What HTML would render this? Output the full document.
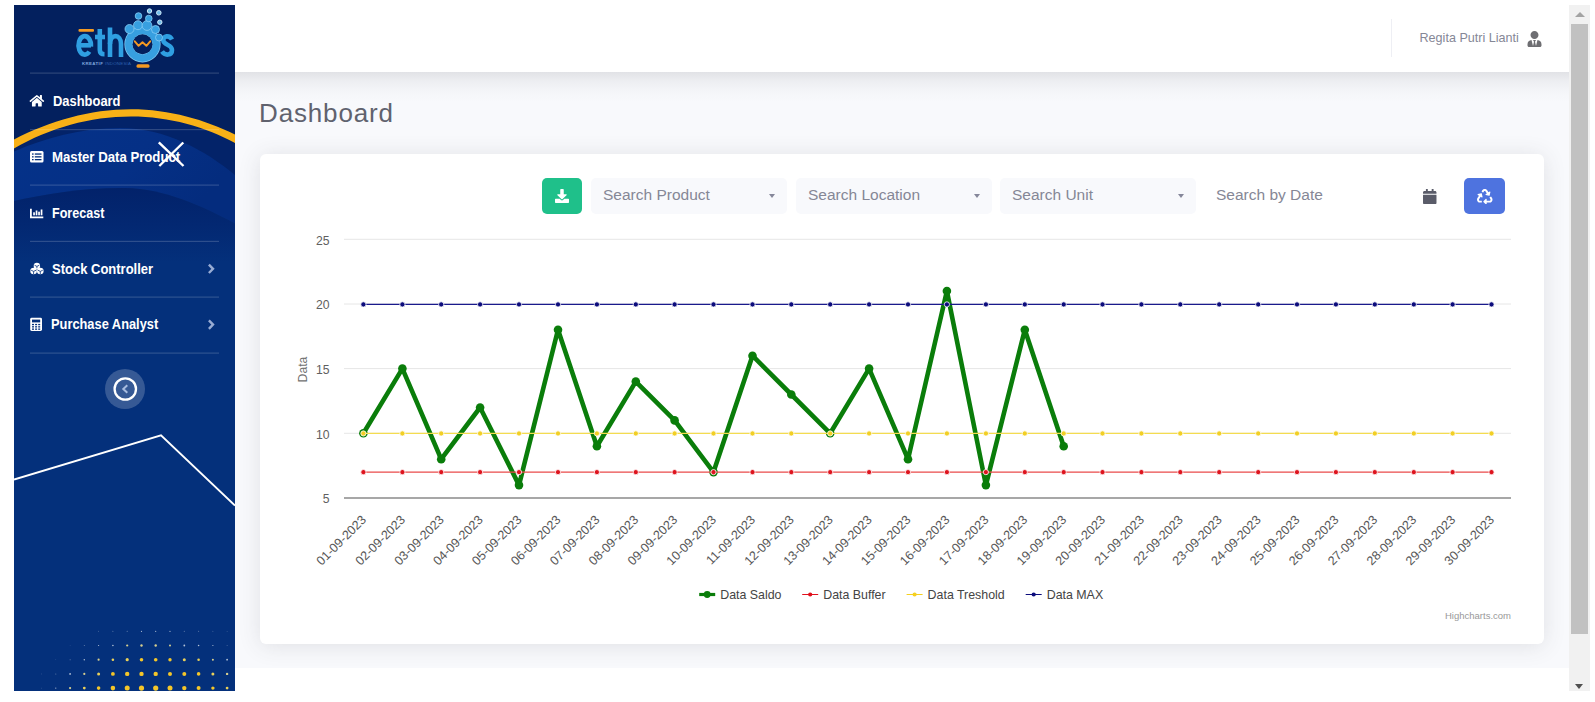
<!DOCTYPE html>
<html lang="en">
<head>
<meta charset="utf-8">
<title>Dashboard</title>
<style>
*{box-sizing:border-box;margin:0;padding:0}
html,body{width:1595px;height:702px;overflow:hidden;background:#fff}
body{font-family:"Liberation Sans",sans-serif;position:relative;color:#858796}
.abs{position:absolute}
#sidebar{left:14px;top:5px;width:221px;height:686px;background:#04307a;overflow:hidden}
#topbar{left:235px;top:5px;width:1335px;height:67px;background:#fff;z-index:2}
#tshadow{left:235px;top:72px;width:1335px;height:30px;background:linear-gradient(to bottom,rgba(58,59,69,.12),rgba(58,59,69,.06) 30%,rgba(58,59,69,.02) 65%,rgba(58,59,69,0))}
#content{left:235px;top:72px;width:1335px;height:596px;background:#f8f9fc}
#card{left:260px;top:154px;width:1284px;height:490px;background:#fff;border-radius:6px;box-shadow:0 2px 22px 0 rgba(58,59,69,.13)}
.nav{position:absolute;left:16px;color:#fff;font-weight:bold;font-size:14.2px;white-space:nowrap;line-height:17px;transform-origin:0 50%}
.nav svg{position:absolute;left:0;top:0}
.nav span{position:absolute;left:23px;top:0}
.hr{position:absolute;left:16px;width:189px;height:1px;background:rgba(255,255,255,.14)}
.sel{position:absolute;top:178px;height:36px;background:#f8f9fc;border-radius:5px;color:#858796;font-size:15.5px;line-height:34.5px;padding-left:12px}
.sel i{position:absolute;right:12px;top:16px;border-left:3.5px solid transparent;border-right:3.5px solid transparent;border-top:4px solid #85879a}
text.ax{font-size:12.2px;fill:#606060;font-family:"Liberation Sans",sans-serif}
text.xl{font-size:12.55px;fill:#585858;font-family:"Liberation Sans",sans-serif}
text.lt{font-size:12.4px;fill:#444;font-family:"Liberation Sans",sans-serif}
svg text{font-family:"Liberation Sans",sans-serif}
</style>
</head>
<body>
<div id="content" class="abs"></div>
<div id="tshadow" class="abs"></div>
<div id="topbar" class="abs">
  <div class="abs" style="left:1156px;top:14px;width:1px;height:38px;background:#eeeff4"></div>
  <div class="abs" id="uname" style="left:1184.5px;top:26.2px;font-size:12.6px;color:#858796;white-space:nowrap;line-height:15px">Regita Putri Lianti</div>
  <svg class="abs" style="left:1292px;top:25.5px" width="15" height="16" viewBox="0 0 448 512"><path fill="#6e6e72" d="M224 256c70.700 0 128-57.300 128-128S294.700 0 224 0 96 57.300 96 128s57.300 128 128 128zm95.800 32.600L272 480l-32-136 32-56h-96l32 56-32 136-47.800-191.400C56.900 292 0 350.300 0 422.400V464c0 26.500 21.500 48 48 48h352c26.500 0 48-21.500 48-48v-41.600c0-72.100-56.900-130.400-128.200-133.800z"/></svg>
</div>
<div id="card" class="abs"></div>
<div class="abs" id="title" style="left:259px;top:96.700px;font-size:26px;letter-spacing:.85px;color:#60626e;line-height:32px;white-space:nowrap">Dashboard</div>

<!-- toolbar -->
<div class="abs" style="left:542px;top:178px;width:40px;height:36px;border-radius:5px;background:#1fc08a">
  <svg class="abs" style="left:13px;top:11px" width="14" height="14" viewBox="0 0 512 512"><path fill="#fff" d="M216 0h80c13.300 0 24 10.700 24 24v168h87.700c17.800 0 26.700 21.500 14.100 34.100L269.700 378.300c-7.500 7.500-19.800 7.500-27.300 0L90.100 226.100c-12.600-12.600-3.700-34.100 14.100-34.100H192V24c0-13.300 10.700-24 24-24zm296 376v112c0 13.300-10.700 24-24 24H24c-13.300 0-24-10.700-24-24V376c0-13.300 10.700-24 24-24h146.700l49 49c20.100 20.100 52.500 20.100 72.600 0l49-49H488c13.300 0 24 10.700 24 24z"/></svg>
</div>
<div class="sel" style="left:591px;width:196px">Search Product<i></i></div>
<div class="sel" style="left:796px;width:196px">Search Location<i></i></div>
<div class="sel" style="left:1000px;width:196px">Search Unit<i></i></div>
<div class="abs" id="sdate" style="left:1216px;top:178px;font-size:15.5px;line-height:34.5px;color:#858796;white-space:nowrap">Search by Date</div>
<svg class="abs" style="left:1423px;top:189px" width="13.500" height="15.400" viewBox="0 0 448 512"><path fill="#5a5c69" d="M12 192h424c6.600 0 12 5.400 12 12v260c0 26.500-21.500 48-48 48H48c-26.500 0-48-21.500-48-48V204c0-6.600 5.400-12 12-12zm436-44v-36c0-26.500-21.500-48-48-48h-48V12c0-6.600-5.400-12-12-12h-40c-6.600 0-12 5.400-12 12v52H160V12c0-6.600-5.400-12-12-12h-40c-6.600 0-12 5.400-12 12v52H48C21.500 64 0 85.500 0 112v36c0 6.600 5.400 12 12 12h424c6.600 0 12-5.400 12-12z"/></svg>
<div class="abs" style="left:1464px;top:178px;width:41px;height:36px;border-radius:5px;background:#4e73df">
  <svg class="abs" style="left:13px;top:10.500px" width="15.500" height="15.500" viewBox="0 0 512 512"><path fill="#fff" d="M184.561 261.903c3.232 13.997-12.123 24.635-24.068 17.168l-40.736-25.455-50.867 81.402C55.606 356.273 70.960 384 96.012 384H148c6.627 0 12 5.373 12 12v40c0 6.627-5.373 12-12 12H96.115c-75.334 0-121.302-83.048-81.408-146.880l50.822-81.388-40.725-25.448c-12.081-7.547-8.966-25.961 4.879-29.158l110.237-25.450c8.611-1.988 17.201 3.381 19.189 11.990l25.452 110.237zm98.561-182.915l41.289 66.076-40.740 25.457c-12.051 7.528-9 25.953 4.879 29.158l110.237 25.450c8.672 1.999 17.215-3.438 19.189-11.990l25.450-110.237c3.197-13.844-11.990-24.719-24.068-17.168l-40.687 25.424-41.263-66.082c-37.521-60.033-125.209-60.171-162.816 0l-17.963 28.766c-3.510 5.620-1.800 13.021 3.820 16.533l33.919 21.195c5.620 3.512 13.024 1.803 16.536-3.817l17.961-28.743c12.712-20.341 41.973-19.676 54.257-.022zM497.288 301.120l-27.515-44.065c-3.511-5.623-10.916-7.334-16.538-3.821l-33.861 21.159c-5.620 3.512-7.330 10.915-3.818 16.536l27.564 44.112c13.257 21.211-2.057 48.960-27.136 48.960H320V336.020c0-14.213-17.242-21.383-27.313-11.313l-80 79.981c-6.249 6.248-6.249 16.379 0 22.627l80 79.989C302.689 517.308 320 510.300 320 495.989V448h95.880c75.274 0 121.335-82.997 81.408-146.880z"/></svg>
</div>

<svg class="chart" width="1595" height="702" viewBox="0 0 1595 702" style="position:absolute;left:0;top:0">
<path d="M344.0 239.3H1511.0" stroke="#e6e6e6" stroke-width="1"/>
<path d="M344.0 304.0H1511.0" stroke="#e6e6e6" stroke-width="1"/>
<path d="M344.0 368.6H1511.0" stroke="#e6e6e6" stroke-width="1"/>
<path d="M344.0 433.3H1511.0" stroke="#e6e6e6" stroke-width="1"/>
<path d="M344.0 498.0H1511.0" stroke="#8a8a8a" stroke-width="1.6"/>
 <text x="329.5" y="244.7" text-anchor="end" class="ax">25</text>
 <text x="329.5" y="309.4" text-anchor="end" class="ax">20</text>
 <text x="329.5" y="374.0" text-anchor="end" class="ax">15</text>
 <text x="329.5" y="438.7" text-anchor="end" class="ax">10</text>
 <text x="329.5" y="503.4" text-anchor="end" class="ax">5</text>
<text transform="translate(306.5,369.5) rotate(-90)" text-anchor="middle" class="ax" style="fill:#707070">Data</text>
<polyline points="363.4,433.3 402.4,368.6 441.2,459.2 480.1,407.5 519.0,485.1 558.0,329.8 596.9,446.3 635.8,381.6 674.6,420.4 713.5,472.1 752.5,355.7 791.3,394.5 830.2,433.3 869.1,368.6 908.0,459.2 946.9,291.0 985.9,485.1 1024.8,329.8 1063.7,446.3" fill="none" stroke="#0a7d0a" stroke-width="4.6" stroke-linejoin="round" stroke-linecap="round"/>
<circle cx="363.4" cy="433.3" r="4.3" fill="#0a7d0a"/>
<circle cx="402.4" cy="368.6" r="4.3" fill="#0a7d0a"/>
<circle cx="441.2" cy="459.2" r="4.3" fill="#0a7d0a"/>
<circle cx="480.1" cy="407.5" r="4.3" fill="#0a7d0a"/>
<circle cx="519.0" cy="485.1" r="4.3" fill="#0a7d0a"/>
<circle cx="558.0" cy="329.8" r="4.3" fill="#0a7d0a"/>
<circle cx="596.9" cy="446.3" r="4.3" fill="#0a7d0a"/>
<circle cx="635.8" cy="381.6" r="4.3" fill="#0a7d0a"/>
<circle cx="674.6" cy="420.4" r="4.3" fill="#0a7d0a"/>
<circle cx="713.5" cy="472.1" r="4.3" fill="#0a7d0a"/>
<circle cx="752.5" cy="355.7" r="4.3" fill="#0a7d0a"/>
<circle cx="791.3" cy="394.5" r="4.3" fill="#0a7d0a"/>
<circle cx="830.2" cy="433.3" r="4.3" fill="#0a7d0a"/>
<circle cx="869.1" cy="368.6" r="4.3" fill="#0a7d0a"/>
<circle cx="908.0" cy="459.2" r="4.3" fill="#0a7d0a"/>
<circle cx="946.9" cy="291.0" r="4.3" fill="#0a7d0a"/>
<circle cx="985.9" cy="485.1" r="4.3" fill="#0a7d0a"/>
<circle cx="1024.8" cy="329.8" r="4.3" fill="#0a7d0a"/>
<circle cx="1063.7" cy="446.3" r="4.3" fill="#0a7d0a"/>
<path d="M363.4 472.13H1491.5" stroke="#ea4a4a" stroke-width="1.3"/>
<circle cx="363.4" cy="472.13" r="2.6" fill="#de141e" stroke="#fff" stroke-width="0.8"/>
<circle cx="402.4" cy="472.13" r="2.6" fill="#de141e" stroke="#fff" stroke-width="0.8"/>
<circle cx="441.2" cy="472.13" r="2.6" fill="#de141e" stroke="#fff" stroke-width="0.8"/>
<circle cx="480.1" cy="472.13" r="2.6" fill="#de141e" stroke="#fff" stroke-width="0.8"/>
<circle cx="519.0" cy="472.13" r="2.6" fill="#de141e" stroke="#fff" stroke-width="0.8"/>
<circle cx="558.0" cy="472.13" r="2.6" fill="#de141e" stroke="#fff" stroke-width="0.8"/>
<circle cx="596.9" cy="472.13" r="2.6" fill="#de141e" stroke="#fff" stroke-width="0.8"/>
<circle cx="635.8" cy="472.13" r="2.6" fill="#de141e" stroke="#fff" stroke-width="0.8"/>
<circle cx="674.6" cy="472.13" r="2.6" fill="#de141e" stroke="#fff" stroke-width="0.8"/>
<circle cx="713.5" cy="472.13" r="2.6" fill="#de141e" stroke="#fff" stroke-width="0.8"/>
<circle cx="752.5" cy="472.13" r="2.6" fill="#de141e" stroke="#fff" stroke-width="0.8"/>
<circle cx="791.3" cy="472.13" r="2.6" fill="#de141e" stroke="#fff" stroke-width="0.8"/>
<circle cx="830.2" cy="472.13" r="2.6" fill="#de141e" stroke="#fff" stroke-width="0.8"/>
<circle cx="869.1" cy="472.13" r="2.6" fill="#de141e" stroke="#fff" stroke-width="0.8"/>
<circle cx="908.0" cy="472.13" r="2.6" fill="#de141e" stroke="#fff" stroke-width="0.8"/>
<circle cx="946.9" cy="472.13" r="2.6" fill="#de141e" stroke="#fff" stroke-width="0.8"/>
<circle cx="985.9" cy="472.13" r="2.6" fill="#de141e" stroke="#fff" stroke-width="0.8"/>
<circle cx="1024.8" cy="472.13" r="2.6" fill="#de141e" stroke="#fff" stroke-width="0.8"/>
<circle cx="1063.7" cy="472.13" r="2.6" fill="#de141e" stroke="#fff" stroke-width="0.8"/>
<circle cx="1102.5" cy="472.13" r="2.6" fill="#de141e" stroke="#fff" stroke-width="0.8"/>
<circle cx="1141.4" cy="472.13" r="2.6" fill="#de141e" stroke="#fff" stroke-width="0.8"/>
<circle cx="1180.3" cy="472.13" r="2.6" fill="#de141e" stroke="#fff" stroke-width="0.8"/>
<circle cx="1219.2" cy="472.13" r="2.6" fill="#de141e" stroke="#fff" stroke-width="0.8"/>
<circle cx="1258.2" cy="472.13" r="2.6" fill="#de141e" stroke="#fff" stroke-width="0.8"/>
<circle cx="1297.0" cy="472.13" r="2.6" fill="#de141e" stroke="#fff" stroke-width="0.8"/>
<circle cx="1335.9" cy="472.13" r="2.6" fill="#de141e" stroke="#fff" stroke-width="0.8"/>
<circle cx="1374.8" cy="472.13" r="2.6" fill="#de141e" stroke="#fff" stroke-width="0.8"/>
<circle cx="1413.8" cy="472.13" r="2.6" fill="#de141e" stroke="#fff" stroke-width="0.8"/>
<circle cx="1452.6" cy="472.13" r="2.6" fill="#de141e" stroke="#fff" stroke-width="0.8"/>
<circle cx="1491.5" cy="472.13" r="2.6" fill="#de141e" stroke="#fff" stroke-width="0.8"/>
<path d="M363.4 433.45H1491.5" stroke="#f4dc50" stroke-width="1.3"/>
<circle cx="363.4" cy="433.45" r="2.6" fill="#f2cf25" stroke="#fff" stroke-width="0.8"/>
<circle cx="402.4" cy="433.45" r="2.6" fill="#f2cf25" stroke="#fff" stroke-width="0.8"/>
<circle cx="441.2" cy="433.45" r="2.6" fill="#f2cf25" stroke="#fff" stroke-width="0.8"/>
<circle cx="480.1" cy="433.45" r="2.6" fill="#f2cf25" stroke="#fff" stroke-width="0.8"/>
<circle cx="519.0" cy="433.45" r="2.6" fill="#f2cf25" stroke="#fff" stroke-width="0.8"/>
<circle cx="558.0" cy="433.45" r="2.6" fill="#f2cf25" stroke="#fff" stroke-width="0.8"/>
<circle cx="596.9" cy="433.45" r="2.6" fill="#f2cf25" stroke="#fff" stroke-width="0.8"/>
<circle cx="635.8" cy="433.45" r="2.6" fill="#f2cf25" stroke="#fff" stroke-width="0.8"/>
<circle cx="674.6" cy="433.45" r="2.6" fill="#f2cf25" stroke="#fff" stroke-width="0.8"/>
<circle cx="713.5" cy="433.45" r="2.6" fill="#f2cf25" stroke="#fff" stroke-width="0.8"/>
<circle cx="752.5" cy="433.45" r="2.6" fill="#f2cf25" stroke="#fff" stroke-width="0.8"/>
<circle cx="791.3" cy="433.45" r="2.6" fill="#f2cf25" stroke="#fff" stroke-width="0.8"/>
<circle cx="830.2" cy="433.45" r="2.6" fill="#f2cf25" stroke="#fff" stroke-width="0.8"/>
<circle cx="869.1" cy="433.45" r="2.6" fill="#f2cf25" stroke="#fff" stroke-width="0.8"/>
<circle cx="908.0" cy="433.45" r="2.6" fill="#f2cf25" stroke="#fff" stroke-width="0.8"/>
<circle cx="946.9" cy="433.45" r="2.6" fill="#f2cf25" stroke="#fff" stroke-width="0.8"/>
<circle cx="985.9" cy="433.45" r="2.6" fill="#f2cf25" stroke="#fff" stroke-width="0.8"/>
<circle cx="1024.8" cy="433.45" r="2.6" fill="#f2cf25" stroke="#fff" stroke-width="0.8"/>
<circle cx="1063.7" cy="433.45" r="2.6" fill="#f2cf25" stroke="#fff" stroke-width="0.8"/>
<circle cx="1102.5" cy="433.45" r="2.6" fill="#f2cf25" stroke="#fff" stroke-width="0.8"/>
<circle cx="1141.4" cy="433.45" r="2.6" fill="#f2cf25" stroke="#fff" stroke-width="0.8"/>
<circle cx="1180.3" cy="433.45" r="2.6" fill="#f2cf25" stroke="#fff" stroke-width="0.8"/>
<circle cx="1219.2" cy="433.45" r="2.6" fill="#f2cf25" stroke="#fff" stroke-width="0.8"/>
<circle cx="1258.2" cy="433.45" r="2.6" fill="#f2cf25" stroke="#fff" stroke-width="0.8"/>
<circle cx="1297.0" cy="433.45" r="2.6" fill="#f2cf25" stroke="#fff" stroke-width="0.8"/>
<circle cx="1335.9" cy="433.45" r="2.6" fill="#f2cf25" stroke="#fff" stroke-width="0.8"/>
<circle cx="1374.8" cy="433.45" r="2.6" fill="#f2cf25" stroke="#fff" stroke-width="0.8"/>
<circle cx="1413.8" cy="433.45" r="2.6" fill="#f2cf25" stroke="#fff" stroke-width="0.8"/>
<circle cx="1452.6" cy="433.45" r="2.6" fill="#f2cf25" stroke="#fff" stroke-width="0.8"/>
<circle cx="1491.5" cy="433.45" r="2.6" fill="#f2cf25" stroke="#fff" stroke-width="0.8"/>
<path d="M363.4 304.40H1491.5" stroke="#1a1a8c" stroke-width="1.3"/>
<circle cx="363.4" cy="304.40" r="2.6" fill="#0c0c7c" stroke="#fff" stroke-width="0.8"/>
<circle cx="402.4" cy="304.40" r="2.6" fill="#0c0c7c" stroke="#fff" stroke-width="0.8"/>
<circle cx="441.2" cy="304.40" r="2.6" fill="#0c0c7c" stroke="#fff" stroke-width="0.8"/>
<circle cx="480.1" cy="304.40" r="2.6" fill="#0c0c7c" stroke="#fff" stroke-width="0.8"/>
<circle cx="519.0" cy="304.40" r="2.6" fill="#0c0c7c" stroke="#fff" stroke-width="0.8"/>
<circle cx="558.0" cy="304.40" r="2.6" fill="#0c0c7c" stroke="#fff" stroke-width="0.8"/>
<circle cx="596.9" cy="304.40" r="2.6" fill="#0c0c7c" stroke="#fff" stroke-width="0.8"/>
<circle cx="635.8" cy="304.40" r="2.6" fill="#0c0c7c" stroke="#fff" stroke-width="0.8"/>
<circle cx="674.6" cy="304.40" r="2.6" fill="#0c0c7c" stroke="#fff" stroke-width="0.8"/>
<circle cx="713.5" cy="304.40" r="2.6" fill="#0c0c7c" stroke="#fff" stroke-width="0.8"/>
<circle cx="752.5" cy="304.40" r="2.6" fill="#0c0c7c" stroke="#fff" stroke-width="0.8"/>
<circle cx="791.3" cy="304.40" r="2.6" fill="#0c0c7c" stroke="#fff" stroke-width="0.8"/>
<circle cx="830.2" cy="304.40" r="2.6" fill="#0c0c7c" stroke="#fff" stroke-width="0.8"/>
<circle cx="869.1" cy="304.40" r="2.6" fill="#0c0c7c" stroke="#fff" stroke-width="0.8"/>
<circle cx="908.0" cy="304.40" r="2.6" fill="#0c0c7c" stroke="#fff" stroke-width="0.8"/>
<circle cx="946.9" cy="304.40" r="2.6" fill="#0c0c7c" stroke="#fff" stroke-width="0.8"/>
<circle cx="985.9" cy="304.40" r="2.6" fill="#0c0c7c" stroke="#fff" stroke-width="0.8"/>
<circle cx="1024.8" cy="304.40" r="2.6" fill="#0c0c7c" stroke="#fff" stroke-width="0.8"/>
<circle cx="1063.7" cy="304.40" r="2.6" fill="#0c0c7c" stroke="#fff" stroke-width="0.8"/>
<circle cx="1102.5" cy="304.40" r="2.6" fill="#0c0c7c" stroke="#fff" stroke-width="0.8"/>
<circle cx="1141.4" cy="304.40" r="2.6" fill="#0c0c7c" stroke="#fff" stroke-width="0.8"/>
<circle cx="1180.3" cy="304.40" r="2.6" fill="#0c0c7c" stroke="#fff" stroke-width="0.8"/>
<circle cx="1219.2" cy="304.40" r="2.6" fill="#0c0c7c" stroke="#fff" stroke-width="0.8"/>
<circle cx="1258.2" cy="304.40" r="2.6" fill="#0c0c7c" stroke="#fff" stroke-width="0.8"/>
<circle cx="1297.0" cy="304.40" r="2.6" fill="#0c0c7c" stroke="#fff" stroke-width="0.8"/>
<circle cx="1335.9" cy="304.40" r="2.6" fill="#0c0c7c" stroke="#fff" stroke-width="0.8"/>
<circle cx="1374.8" cy="304.40" r="2.6" fill="#0c0c7c" stroke="#fff" stroke-width="0.8"/>
<circle cx="1413.8" cy="304.40" r="2.6" fill="#0c0c7c" stroke="#fff" stroke-width="0.8"/>
<circle cx="1452.6" cy="304.40" r="2.6" fill="#0c0c7c" stroke="#fff" stroke-width="0.8"/>
<circle cx="1491.5" cy="304.40" r="2.6" fill="#0c0c7c" stroke="#fff" stroke-width="0.8"/>
<text transform="translate(366.9,520.6) rotate(-45)" text-anchor="end" class="xl">01-09-2023</text>
<text transform="translate(405.9,520.6) rotate(-45)" text-anchor="end" class="xl">02-09-2023</text>
<text transform="translate(444.8,520.6) rotate(-45)" text-anchor="end" class="xl">03-09-2023</text>
<text transform="translate(483.6,520.6) rotate(-45)" text-anchor="end" class="xl">04-09-2023</text>
<text transform="translate(522.5,520.6) rotate(-45)" text-anchor="end" class="xl">05-09-2023</text>
<text transform="translate(561.5,520.6) rotate(-45)" text-anchor="end" class="xl">06-09-2023</text>
<text transform="translate(600.4,520.6) rotate(-45)" text-anchor="end" class="xl">07-09-2023</text>
<text transform="translate(639.2,520.6) rotate(-45)" text-anchor="end" class="xl">08-09-2023</text>
<text transform="translate(678.1,520.6) rotate(-45)" text-anchor="end" class="xl">09-09-2023</text>
<text transform="translate(717.0,520.6) rotate(-45)" text-anchor="end" class="xl">10-09-2023</text>
<text transform="translate(756.0,520.6) rotate(-45)" text-anchor="end" class="xl">11-09-2023</text>
<text transform="translate(794.8,520.6) rotate(-45)" text-anchor="end" class="xl">12-09-2023</text>
<text transform="translate(833.8,520.6) rotate(-45)" text-anchor="end" class="xl">13-09-2023</text>
<text transform="translate(872.6,520.6) rotate(-45)" text-anchor="end" class="xl">14-09-2023</text>
<text transform="translate(911.5,520.6) rotate(-45)" text-anchor="end" class="xl">15-09-2023</text>
<text transform="translate(950.4,520.6) rotate(-45)" text-anchor="end" class="xl">16-09-2023</text>
<text transform="translate(989.4,520.6) rotate(-45)" text-anchor="end" class="xl">17-09-2023</text>
<text transform="translate(1028.2,520.6) rotate(-45)" text-anchor="end" class="xl">18-09-2023</text>
<text transform="translate(1067.2,520.6) rotate(-45)" text-anchor="end" class="xl">19-09-2023</text>
<text transform="translate(1106.0,520.6) rotate(-45)" text-anchor="end" class="xl">20-09-2023</text>
<text transform="translate(1144.9,520.6) rotate(-45)" text-anchor="end" class="xl">21-09-2023</text>
<text transform="translate(1183.8,520.6) rotate(-45)" text-anchor="end" class="xl">22-09-2023</text>
<text transform="translate(1222.8,520.6) rotate(-45)" text-anchor="end" class="xl">23-09-2023</text>
<text transform="translate(1261.7,520.6) rotate(-45)" text-anchor="end" class="xl">24-09-2023</text>
<text transform="translate(1300.5,520.6) rotate(-45)" text-anchor="end" class="xl">25-09-2023</text>
<text transform="translate(1339.4,520.6) rotate(-45)" text-anchor="end" class="xl">26-09-2023</text>
<text transform="translate(1378.3,520.6) rotate(-45)" text-anchor="end" class="xl">27-09-2023</text>
<text transform="translate(1417.2,520.6) rotate(-45)" text-anchor="end" class="xl">28-09-2023</text>
<text transform="translate(1456.1,520.6) rotate(-45)" text-anchor="end" class="xl">29-09-2023</text>
<text transform="translate(1495.0,520.6) rotate(-45)" text-anchor="end" class="xl">30-09-2023</text>
<g class="lg">
<path d="M699.2 594.5h16" stroke="#0a7d0a" stroke-width="3.2"/>
<circle cx="707.2" cy="594.5" r="3.4" fill="#0a7d0a"/>
<text x="720.2" y="599.3" class="lt">Data Saldo</text>
<path d="M802.2 594.5h16" stroke="#e0101c" stroke-width="1"/>
<circle cx="810.2" cy="594.5" r="2.1" fill="#e0101c"/>
<text x="823.2" y="599.3" class="lt">Data Buffer</text>
<path d="M906.6 594.5h16" stroke="#f5d020" stroke-width="1"/>
<circle cx="914.6" cy="594.5" r="2.1" fill="#f5d020"/>
<text x="927.6" y="599.3" class="lt">Data Treshold</text>
<path d="M1025.7 594.5h16" stroke="#0c0c7c" stroke-width="1"/>
<circle cx="1033.7" cy="594.5" r="2.1" fill="#0c0c7c"/>
<text x="1046.7" y="599.3" class="lt">Data MAX</text>
</g>
<text x="1511" y="618.7" text-anchor="end" style="font-size:9.5px;fill:#999">Highcharts.com</text>
</svg>

<!-- sidebar -->
<div id="sidebar" class="abs">
<svg width="221" height="686" viewBox="14 5 221 686" style="position:absolute;left:0;top:0">
<defs>
<linearGradient id="gbase" x1="0" y1="0" x2="0" y2="1"><stop offset="0" stop-color="#04307b"/><stop offset="1" stop-color="#04307b"/></linearGradient>
<linearGradient id="gwave" x1="0" y1="0" x2="0" y2="1"><stop offset="0" stop-color="#02226a"/><stop offset="0.5" stop-color="#032872"/><stop offset="1" stop-color="#04307b"/></linearGradient>
<linearGradient id="glight" x1="0" y1="0" x2="1" y2="0.4"><stop offset="0" stop-color="#053289"/><stop offset="0.6" stop-color="#053086"/><stop offset="1" stop-color="#042c7e"/></linearGradient>
</defs>
<rect x="14" y="5" width="221" height="686" fill="#04307b"/>
<path d="M14 120 H235 V223.5 C200 205 165 189 125 188 C85 187.5 45 194 14 201 Z" fill="url(#glight)"/>
<path d="M14 201 C45 194 85 187.5 125 188 C165 189 200 205 235 223.5 V262 H14 Z" fill="url(#gwave)"/>
<path d="M14 5 H235 V175 C205 150 165 128 120 128 C80 128 45 138 14 151.5 Z" fill="#032369"/>
<path d="M14 5 H235 V144 C200 122 165 117 131 117 C90 117 50 128 14 149 Z" fill="#03205e"/>
<path d="M14 139.5 C50 121 90 109.3 131 109.3 C170 109.3 205 120 235 134.5 V143 C205 127 170 116.6 131 116.6 C90 116.6 50 128 14 148.5 Z" fill="#f8b117"/>
<path d="M14 479.5 L161 435.3 L235 505.5" fill="none" stroke="#fff" stroke-width="1.900"/>
<circle cx="98.6" cy="631.3" r="0.45" fill="#b4c2d6" opacity="0.6"/>
<circle cx="112.9" cy="631.3" r="0.50" fill="#b4c2d6" opacity="0.6"/>
<circle cx="127.2" cy="631.3" r="0.55" fill="#b4c2d6" opacity="0.6"/>
<circle cx="141.5" cy="631.3" r="0.60" fill="#b4c2d6" opacity="1"/>
<circle cx="155.7" cy="631.3" r="0.60" fill="#b4c2d6" opacity="1"/>
<circle cx="170.0" cy="631.3" r="0.60" fill="#b4c2d6" opacity="1"/>
<circle cx="184.3" cy="631.3" r="0.55" fill="#b4c2d6" opacity="0.6"/>
<circle cx="198.6" cy="631.3" r="0.50" fill="#b4c2d6" opacity="0.6"/>
<circle cx="212.9" cy="631.3" r="0.45" fill="#b4c2d6" opacity="0.6"/>
<circle cx="227.1" cy="631.3" r="0.40" fill="#b4c2d6" opacity="0.6"/>
<circle cx="70.1" cy="645.5" r="0.30" fill="#b4c2d6" opacity="0.6"/>
<circle cx="84.3" cy="645.5" r="0.50" fill="#b4c2d6" opacity="0.6"/>
<circle cx="98.6" cy="645.5" r="0.60" fill="#b4c2d6" opacity="1"/>
<circle cx="112.9" cy="645.5" r="0.80" fill="#b4c2d6" opacity="1"/>
<circle cx="127.2" cy="645.5" r="1.10" fill="#d8cf8e" opacity="1"/>
<circle cx="141.5" cy="645.5" r="1.20" fill="#d8cf8e" opacity="1"/>
<circle cx="155.7" cy="645.5" r="1.20" fill="#d8cf8e" opacity="1"/>
<circle cx="170.0" cy="645.5" r="1.00" fill="#d8cf8e" opacity="1"/>
<circle cx="184.3" cy="645.5" r="0.90" fill="#b4c2d6" opacity="1"/>
<circle cx="198.6" cy="645.5" r="0.80" fill="#b4c2d6" opacity="1"/>
<circle cx="212.9" cy="645.5" r="0.60" fill="#b4c2d6" opacity="1"/>
<circle cx="227.1" cy="645.5" r="0.45" fill="#b4c2d6" opacity="0.6"/>
<circle cx="55.8" cy="659.7" r="0.30" fill="#b4c2d6" opacity="0.6"/>
<circle cx="70.1" cy="659.7" r="0.50" fill="#b4c2d6" opacity="0.6"/>
<circle cx="84.3" cy="659.7" r="0.70" fill="#b4c2d6" opacity="1"/>
<circle cx="98.6" cy="659.7" r="1.10" fill="#d8cf8e" opacity="1"/>
<circle cx="112.9" cy="659.7" r="1.30" fill="#e9d05a" opacity="1"/>
<circle cx="127.2" cy="659.7" r="1.60" fill="#e9d05a" opacity="1"/>
<circle cx="141.5" cy="659.7" r="1.80" fill="#f4c62a" opacity="1"/>
<circle cx="155.7" cy="659.7" r="1.80" fill="#f4c62a" opacity="1"/>
<circle cx="170.0" cy="659.7" r="1.70" fill="#f4c62a" opacity="1"/>
<circle cx="184.3" cy="659.7" r="1.50" fill="#e9d05a" opacity="1"/>
<circle cx="198.6" cy="659.7" r="1.30" fill="#e9d05a" opacity="1"/>
<circle cx="212.9" cy="659.7" r="1.00" fill="#d8cf8e" opacity="1"/>
<circle cx="227.1" cy="659.7" r="0.90" fill="#b4c2d6" opacity="1"/>
<circle cx="41.5" cy="673.9" r="0.30" fill="#b4c2d6" opacity="0.6"/>
<circle cx="55.8" cy="673.9" r="0.50" fill="#b4c2d6" opacity="0.6"/>
<circle cx="70.1" cy="673.9" r="0.90" fill="#b4c2d6" opacity="1"/>
<circle cx="84.3" cy="673.9" r="1.10" fill="#d8cf8e" opacity="1"/>
<circle cx="98.6" cy="673.9" r="1.50" fill="#e9d05a" opacity="1"/>
<circle cx="112.9" cy="673.9" r="1.90" fill="#f4c62a" opacity="1"/>
<circle cx="127.2" cy="673.9" r="2.20" fill="#f4c62a" opacity="1"/>
<circle cx="141.5" cy="673.9" r="2.20" fill="#f4c62a" opacity="1"/>
<circle cx="155.7" cy="673.9" r="2.20" fill="#f4c62a" opacity="1"/>
<circle cx="170.0" cy="673.9" r="2.00" fill="#f4c62a" opacity="1"/>
<circle cx="184.3" cy="673.9" r="2.00" fill="#f4c62a" opacity="1"/>
<circle cx="198.6" cy="673.9" r="1.80" fill="#f4c62a" opacity="1"/>
<circle cx="212.9" cy="673.9" r="1.50" fill="#e9d05a" opacity="1"/>
<circle cx="227.1" cy="673.9" r="1.20" fill="#d8cf8e" opacity="1"/>
<circle cx="41.5" cy="688.1" r="0.30" fill="#b4c2d6" opacity="0.6"/>
<circle cx="55.8" cy="688.1" r="0.60" fill="#b4c2d6" opacity="1"/>
<circle cx="70.1" cy="688.1" r="1.10" fill="#d8cf8e" opacity="1"/>
<circle cx="84.3" cy="688.1" r="1.40" fill="#e9d05a" opacity="1"/>
<circle cx="98.6" cy="688.1" r="1.80" fill="#f4c62a" opacity="1"/>
<circle cx="112.9" cy="688.1" r="2.30" fill="#f4c62a" opacity="1"/>
<circle cx="127.2" cy="688.1" r="2.50" fill="#f4c62a" opacity="1"/>
<circle cx="141.5" cy="688.1" r="2.60" fill="#f4c62a" opacity="1"/>
<circle cx="155.7" cy="688.1" r="2.60" fill="#f4c62a" opacity="1"/>
<circle cx="170.0" cy="688.1" r="2.50" fill="#f4c62a" opacity="1"/>
<circle cx="184.3" cy="688.1" r="2.20" fill="#f4c62a" opacity="1"/>
<circle cx="198.6" cy="688.1" r="2.00" fill="#f4c62a" opacity="1"/>
<circle cx="212.9" cy="688.1" r="1.70" fill="#f4c62a" opacity="1"/>
<circle cx="227.1" cy="688.1" r="1.40" fill="#e9d05a" opacity="1"/>
<rect x="30" y="72.5" width="189" height="1.200" fill="#ffffff" opacity="0.170"/>
<rect x="30" y="129.0" width="189" height="1.200" fill="#ffffff" opacity="0.170"/>
<rect x="30" y="184.5" width="189" height="1.200" fill="#ffffff" opacity="0.170"/>
<rect x="30" y="240.8" width="189" height="1.200" fill="#ffffff" opacity="0.170"/>
<rect x="30" y="296.5" width="189" height="1.200" fill="#ffffff" opacity="0.170"/>
<rect x="30" y="352.5" width="189" height="1.200" fill="#ffffff" opacity="0.170"/>
<g fill="none" stroke="#2f9fe2" stroke-width="4.600" stroke-linecap="butt">
<path d="M78.8 45.3 H91"/>
<path d="M90.9 46.5 A6.2 9.2 0 1 0 89.3 51.6"/>
<path d="M99.8 29 V50 Q99.8 54.3 104.5 54.3"/>
<path d="M95 37 H105"/>
<path d="M110 27.5 V57"/>
<path d="M110 44 C110 33.500 121 33.500 121 44 V57"/>
<path d="M172 39.500 C169.500 34.800 162.800 35.500 163.300 40.500 C163.800 45.300 172 44.300 172 50 C172 55.600 165 56 162 51.500"/>
</g>
<circle cx="142.5" cy="44.3" r="13.8" fill="none" stroke="#86cdf5" stroke-width="8.600"/>
<circle cx="142.5" cy="44.3" r="13.8" fill="none" stroke="#379fe0" stroke-width="7.200"/>
<circle cx="129.5" cy="29" r="4.5" fill="#379fe0" stroke="#86cdf5" stroke-width="0.800"/>
<circle cx="138" cy="25.2" r="4.5" fill="#379fe0" stroke="#86cdf5" stroke-width="0.800"/>
<circle cx="147" cy="25.5" r="4.9" fill="#379fe0" stroke="#86cdf5" stroke-width="0.800"/>
<circle cx="155.5" cy="29.5" r="4.0" fill="#379fe0" stroke="#86cdf5" stroke-width="0.800"/>
<circle cx="159" cy="37.5" r="3.5" fill="#379fe0" stroke="#86cdf5" stroke-width="0.800"/>
<circle cx="142.5" cy="44.3" r="10" fill="#03205e"/>
<circle cx="138.5" cy="16" r="3.3" fill="#379fe0" stroke="#86cdf5" stroke-width="0.8"/>
<circle cx="148.8" cy="18.5" r="3.3" fill="#379fe0" stroke="#86cdf5" stroke-width="0.8"/>
<circle cx="149.5" cy="11" r="2.2" fill="#6fbdea" stroke="#cfeaf9" stroke-width="1"/>
<circle cx="158.8" cy="12.8" r="2.3" fill="#6fbdea" stroke="#cfeaf9" stroke-width="1"/>
<circle cx="159.8" cy="22.2" r="2.2" fill="#6fbdea" stroke="#cfeaf9" stroke-width="1"/>
<path d="M134.8 41.3 L138.6 45.800 L142.500 42.300 L146.400 45.800 L150.200 41.300" fill="none" stroke="#f59a23" stroke-width="1.9" stroke-linejoin="round" stroke-linecap="round"/>
<rect x="78.5" y="29" width="15.5" height="2.8" rx="1" fill="#f59a23"/>
<rect x="136.5" y="64.300" width="13" height="3.400" rx="1.500" fill="#f59a23"/>
<text x="82" y="64.800" style="font-size:4.400px;font-weight:bold;fill:#7fa6dc;letter-spacing:.1px" textLength="21">KREATIF</text>
<text x="105" y="64.800" style="font-size:4.400px;fill:#2d60b0;letter-spacing:.1px" textLength="26">INDONESIA</text>
<circle cx="125" cy="389" r="20" fill="#ffffff" opacity="0.2"/>
<circle cx="125.300" cy="389" r="10.700" fill="none" stroke="#fff" stroke-width="2.300"/>
<path d="M127.300 385.300 L123.300 389 L127.300 392.700" fill="none" stroke="#a9bde0" stroke-width="2" />
<path d="M158.800 142.300 L183.500 166 M183.300 142.500 L159.300 166" stroke="#fff" stroke-width="2.400" fill="none"/>
<path d="M208.900 264.6 L213 268.8 L208.900 273.0" fill="none" stroke="#98acd4" stroke-width="2.400"/>
<path d="M208.900 320.40000000000003 L213 324.6 L208.900 328.8" fill="none" stroke="#98acd4" stroke-width="2.400"/>
<g transform="translate(29.500,94.300) scale(0.0255)" fill="#fff"><path d="M280.370 148.260L96 300.110V464a16 16 0 0 0 16 16l112.060-.290a16 16 0 0 0 15.920-16V368a16 16 0 0 1 16-16h64a16 16 0 0 1 16 16v95.640a16 16 0 0 0 16 16.050L464 480a16 16 0 0 0 16-16V300L295.670 148.260a12.190 12.190 0 0 0-15.300 0zM571.600 251.470L488 182.560V44.050a12 12 0 0 0-12-12h-56a12 12 0 0 0-12 12v72.610L318.470 43a48 48 0 0 0-61 0L4.340 251.470a12 12 0 0 0-1.600 16.900l25.500 31A12 12 0 0 0 45.150 301l235.220-193.740a12.190 12.190 0 0 1 15.300 0L530.900 301a12 12 0 0 0 16.900-1.600l25.500-31a12 12 0 0 0-1.700-16.930z"/></g>
<g><rect x="30" y="151" width="13.500" height="11.500" rx="1.500" fill="#fff"/>
<rect x="32" y="153.4" width="1.600" height="1.300" fill="#04307b"/><rect x="34.800" y="153.4" width="6.700" height="1.300" fill="#04307b"/>
<rect x="32" y="156.20000000000002" width="1.600" height="1.300" fill="#04307b"/><rect x="34.800" y="156.20000000000002" width="6.700" height="1.300" fill="#04307b"/>
<rect x="32" y="159.0" width="1.600" height="1.300" fill="#04307b"/><rect x="34.800" y="159.0" width="6.700" height="1.300" fill="#04307b"/>
</g>
<g fill="#fff"><path d="M30 208.800 h1.800 v7.700 h11.500 v1.800 h-13.300 z"/>
<rect x="33.2" y="212.3" width="1.700" height="3"/>
<rect x="35.7" y="210.5" width="1.700" height="4.8"/>
<rect x="38.2" y="211.70000000000002" width="1.700" height="3.6"/>
<rect x="40.7" y="209.5" width="1.700" height="5.8"/>
</g>
<g fill="#fff"><circle cx="36.900" cy="266" r="3.200"/><circle cx="33.600" cy="271" r="3.300"/><circle cx="40.300" cy="271" r="3.300"/></g>
<g stroke="#04307b" stroke-width="0.800" fill="none"><path d="M34.500 265.200 L36.900 266.400 L39.300 265.200 M36.900 266.400 V268.300"/><path d="M31.100 270.200 L33.600 271.400 L36.100 270.200 M33.600 271.400 V274"/><path d="M37.800 270.200 L40.300 271.400 L42.800 270.200 M40.300 271.400 V274"/></g>
<g><rect x="30.200" y="317.800" width="11.800" height="13.100" rx="1.400" fill="#fff"/><rect x="32" y="319.600" width="8.200" height="2.800" fill="#04307b"/>
<rect x="32" y="323.9" width="2" height="1.300" fill="#04307b"/>
<rect x="35.1" y="323.9" width="2" height="1.300" fill="#04307b"/>
<rect x="38.2" y="323.9" width="2" height="1.300" fill="#04307b"/>
<rect x="32" y="326.2" width="2" height="1.300" fill="#04307b"/>
<rect x="35.1" y="326.2" width="2" height="1.300" fill="#04307b"/>
<rect x="38.2" y="326.2" width="2" height="1.300" fill="#04307b"/>
<rect x="32" y="328.5" width="2" height="1.300" fill="#04307b"/>
<rect x="35.1" y="328.5" width="2" height="1.300" fill="#04307b"/>
<rect x="38.2" y="328.5" width="2" height="1.300" fill="#04307b"/>
</g>
</svg>
<div class="nav" style="top:87.6px;left:39px;transform:scaleX(0.9109)" id="n1">Dashboard</div>
<div class="nav" style="top:143.6px;left:38px;transform:scaleX(0.9292)" id="n2">Master Data Product</div>
<div class="nav" style="top:199.9px;left:38px;transform:scaleX(0.8860)" id="n3">Forecast</div>
<div class="nav" style="top:255.6px;left:38px;transform:scaleX(0.9161)" id="n4">Stock Controller</div>
<div class="nav" style="top:311.4px;left:37px;transform:scaleX(0.9045)" id="n5">Purchase Analyst</div>

</div>

<!-- scrollbar -->
<div class="abs" style="left:1569px;top:5px;width:21px;height:686px;background:#f1f1f1;z-index:3">
  <div class="abs" style="left:2px;top:19px;width:17px;height:610px;background:#c1c1c1"></div>
  <div class="abs" style="left:5.500px;top:7px;border-left:5px solid transparent;border-right:5px solid transparent;border-bottom:5.500px solid #a3a3a3"></div>
  <div class="abs" style="left:6px;top:678.5px;border-left:4.5px solid transparent;border-right:4.5px solid transparent;border-top:5px solid #505050"></div>
</div>
</body>
</html>
